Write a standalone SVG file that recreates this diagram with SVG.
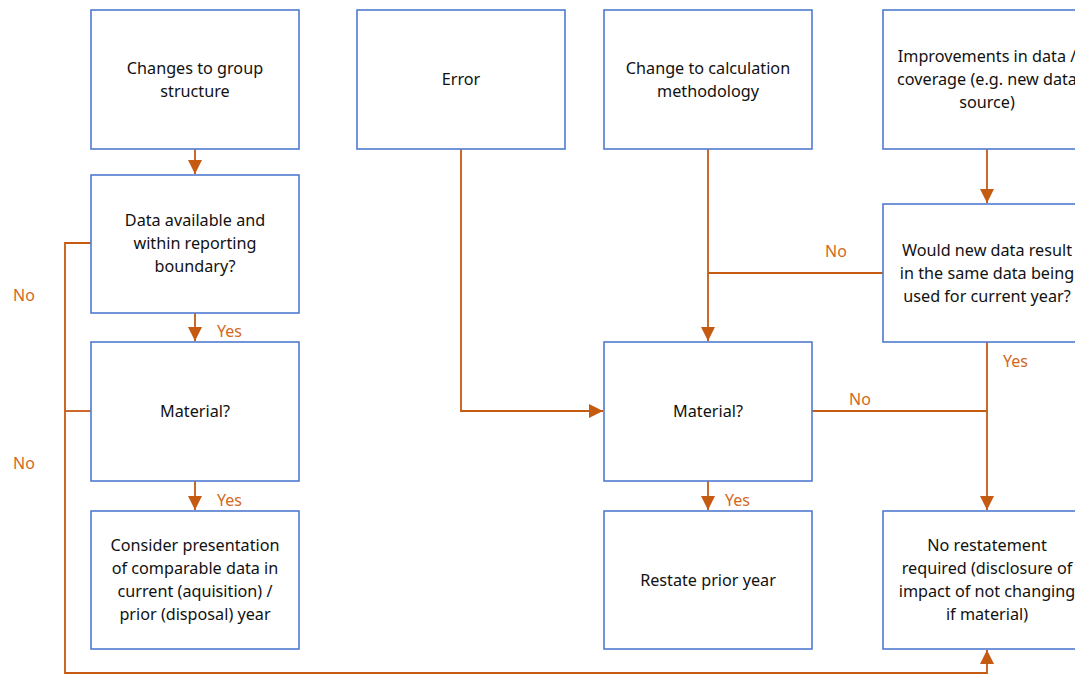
<svg xmlns="http://www.w3.org/2000/svg" width="1075" height="675" viewBox="0 0 1075 675">
<style>
.box{fill:#fff;stroke:#4F7BD0;stroke-width:1.6}
.t{font-family:"Noto Sans","Open Sans",sans-serif;font-size:16.2px;fill:#111;text-anchor:middle}
.c{fill:none;stroke:#C55A11;stroke-width:1.8}
.l{font-family:"Noto Sans","Open Sans",sans-serif;font-size:16px;fill:#D2691E}
</style>
<defs>
<marker id="a" viewBox="0 0 10 10" refX="10" refY="5" markerWidth="14" markerHeight="14" orient="auto" markerUnits="userSpaceOnUse">
<path d="M0,0 L10,5 L0,10 z" fill="#C55A11"/>
</marker>
</defs>
<rect width="1075" height="675" fill="#fff"/>
<g id="connectors">
<path class="c" d="M195,149 V174" marker-end="url(#a)"/>
<path class="c" d="M195,313 V341" marker-end="url(#a)"/>
<path class="c" d="M195,481 V510" marker-end="url(#a)"/>
<path class="c" d="M91,243 H65 V673 H987 V650" marker-end="url(#a)"/>
<path class="c" d="M91,411 H65"/>
<path class="c" d="M461,149 V411 H603" marker-end="url(#a)"/>
<path class="c" d="M708,149 V341" marker-end="url(#a)"/>
<path class="c" d="M883,273 H708"/>
<path class="c" d="M987,149 V203" marker-end="url(#a)"/>
<path class="c" d="M987,342 V510" marker-end="url(#a)"/>
<path class="c" d="M812,411 H987"/>
<path class="c" d="M708,481 V510" marker-end="url(#a)"/>
<text class="l" x="217" y="337">Yes</text>
<text class="l" x="217" y="506">Yes</text>
<text class="l" x="725" y="506">Yes</text>
<text class="l" x="1003" y="367">Yes</text>
<text class="l" x="13" y="301">No</text>
<text class="l" x="13" y="469">No</text>
<text class="l" x="825" y="257">No</text>
<text class="l" x="849" y="405">No</text>
</g>
<g id="n1"><rect class="box" x="91" y="10" width="208" height="139"/><text class="t" x="195" y="74">Changes to group</text><text class="t" x="195" y="97">structure</text></g>
<g id="n2"><rect class="box" x="357" y="10" width="208" height="139"/><text class="t" x="461" y="85">Error</text></g>
<g id="n3"><rect class="box" x="604" y="10" width="208" height="139"/><text class="t" x="708" y="74">Change to calculation</text><text class="t" x="708" y="97">methodology</text></g>
<g id="n4"><rect class="box" x="883" y="10" width="208" height="139"/><text class="t" x="987" y="62">Improvements in data /</text><text class="t" x="987" y="85">coverage (e.g. new data</text><text class="t" x="987" y="108">source)</text></g>
<g id="n5"><rect class="box" x="91" y="175" width="208" height="138"/><text class="t" x="195" y="226">Data available and</text><text class="t" x="195" y="249">within reporting</text><text class="t" x="195" y="272">boundary?</text></g>
<g id="n6"><rect class="box" x="883" y="204" width="208" height="138"/><text class="t" x="987" y="256">Would new data result</text><text class="t" x="987" y="279">in the same data being</text><text class="t" x="987" y="302">used for current year?</text></g>
<g id="n7"><rect class="box" x="91" y="342" width="208" height="139"/><text class="t" x="195" y="417">Material?</text></g>
<g id="n8"><rect class="box" x="604" y="342" width="208" height="139"/><text class="t" x="708" y="417">Material?</text></g>
<g id="n9"><rect class="box" x="91" y="511" width="208" height="138"/><text class="t" x="195" y="551">Consider presentation</text><text class="t" x="195" y="574">of comparable data in</text><text class="t" x="195" y="597">current (aquisition) /</text><text class="t" x="195" y="620">prior (disposal) year</text></g>
<g id="n10"><rect class="box" x="604" y="511" width="208" height="138"/><text class="t" x="708" y="586">Restate prior year</text></g>
<g id="n11"><rect class="box" x="883" y="511" width="208" height="138"/><text class="t" x="987" y="551">No restatement</text><text class="t" x="987" y="574">required (disclosure of</text><text class="t" x="987" y="597">impact of not changing</text><text class="t" x="987" y="620">if material)</text></g>
</svg>
